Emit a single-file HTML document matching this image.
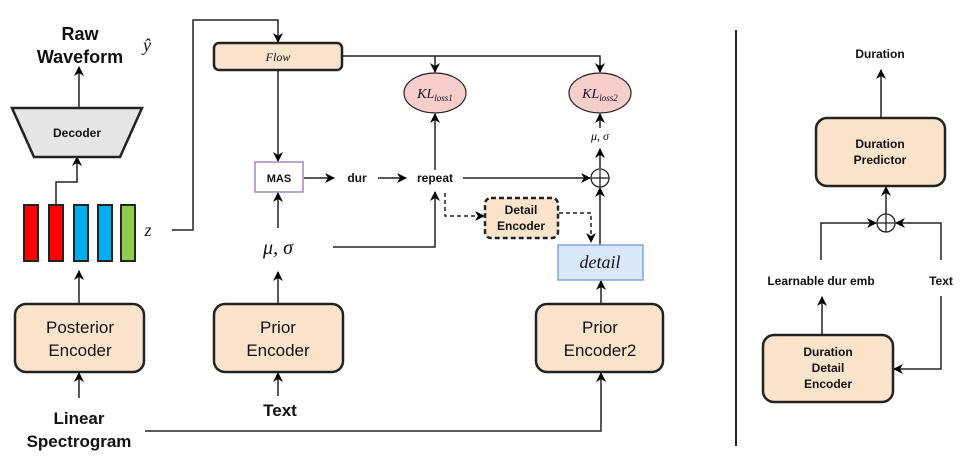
<!DOCTYPE html>
<html><head><meta charset="utf-8"><style>
html,body{margin:0;padding:0;background:#fff;}
svg{display:block;font-family:"Liberation Sans",sans-serif;}
.b{font-weight:bold;}
.m{font-family:"Liberation Serif",serif;font-style:italic;}
</style></head><body>
<svg width="974" height="472" viewBox="0 0 974 472" xmlns="http://www.w3.org/2000/svg">
<defs>
<marker id="a" markerWidth="10" markerHeight="10" refX="9" refY="5" orient="auto" markerUnits="userSpaceOnUse">
<path d="M0,0 L10,5 L0,10 L3,5 Z" fill="#000"/></marker>
</defs>
<g stroke="#222" stroke-width="1.5" fill="none">
<!-- z to flow -->
<polyline points="172,230 193,230 193,20 278,20 278,42" marker-end="url(#a)"/>
<!-- flow to MAS -->
<line x1="278" y1="70" x2="278" y2="161" marker-end="url(#a)"/>
<!-- flow to KL -->
<polyline points="342,56 600,56 600,72" marker-end="url(#a)"/>
<line x1="435" y1="56" x2="435" y2="72" marker-end="url(#a)"/>
<!-- MAS to dur -->
<line x1="304" y1="178" x2="334" y2="178" marker-end="url(#a)"/>
<line x1="378" y1="178" x2="406" y2="178" marker-end="url(#a)"/>
<!-- repeat to KL1 -->
<line x1="435" y1="170" x2="435" y2="114" marker-end="url(#a)"/>
<!-- repeat to oplus -->
<line x1="463" y1="178" x2="590" y2="178" marker-end="url(#a)"/>
<!-- mu sigma to repeat -->
<polyline points="333,247 435,247 435,192" marker-end="url(#a)"/>
<!-- mu sigma to MAS -->
<line x1="278" y1="228" x2="278" y2="193" marker-end="url(#a)"/>
<!-- prior to mu sigma -->
<line x1="278" y1="303" x2="278" y2="272" marker-end="url(#a)"/>
<line x1="278" y1="396" x2="278" y2="373" marker-end="url(#a)"/>
<!-- posterior -->
<line x1="79" y1="303" x2="79" y2="271" marker-end="url(#a)"/>
<line x1="79" y1="398" x2="79" y2="373" marker-end="url(#a)"/>
<polyline points="56,205 56,182 77,182 77,157" marker-end="url(#a)"/>
<line x1="79" y1="108" x2="79" y2="67" marker-end="url(#a)"/>
<!-- spectrogram to enc2 -->
<polyline points="145,431 601,431 601,373" marker-end="url(#a)"/>
<line x1="601" y1="304" x2="601" y2="281" marker-end="url(#a)"/>
<line x1="600" y1="245" x2="600" y2="188" marker-end="url(#a)"/>
<line x1="600" y1="168" x2="600" y2="149" marker-end="url(#a)"/>
<line x1="600" y1="128" x2="600" y2="114" marker-end="url(#a)"/>
<!-- dashed -->
<polyline points="445,193 445,216 484,216" stroke-dasharray="4,3" marker-end="url(#a)"/>
<polyline points="559,213 591,213 591,242" stroke-dasharray="4,3" marker-end="url(#a)"/>
<!-- divider -->
<line x1="736" y1="30" x2="736" y2="446" stroke-width="2"/>
<!-- right diagram -->
<line x1="881" y1="117" x2="881" y2="70" marker-end="url(#a)"/>
<line x1="886" y1="214" x2="886" y2="187" marker-end="url(#a)"/>
<polyline points="821,260 821,223 876,223" marker-end="url(#a)"/>
<polyline points="941,260 941,223 896,223" marker-end="url(#a)"/>
<line x1="822" y1="334" x2="822" y2="297" marker-end="url(#a)"/>
<polyline points="941,296 941,369 894,369" marker-end="url(#a)"/>
</g>
<!-- shapes -->
<g stroke="#222" stroke-width="2.5">
<polygon points="12,108 142,108 120,157 34,157" fill="#e6e6e6"/>
<rect x="214" y="43" width="128" height="27" rx="5" fill="#fce4cc"/>
<rect x="15" y="304" width="129" height="68" rx="11" fill="#fce4cc"/>
<rect x="214" y="304" width="129" height="68" rx="11" fill="#fce4cc"/>
<rect x="536" y="304" width="127" height="68" rx="11" fill="#fce4cc"/>
<rect x="816" y="118" width="129" height="68" rx="11" fill="#fce4cc"/>
<rect x="763" y="335" width="130" height="67" rx="11" fill="#fce4cc"/>
<rect x="485" y="198" width="73" height="40" rx="6" fill="#fce4cc" stroke-dasharray="5,3"/>
</g>
<g stroke="#222" stroke-width="2">
<rect x="24" y="205" width="14" height="56" fill="#ff0000"/>
<rect x="49" y="205" width="14" height="56" fill="#ff0000"/>
<rect x="74" y="205" width="14" height="56" fill="#00aeef"/>
<rect x="98" y="205" width="14" height="56" fill="#00aeef"/>
<rect x="121" y="205" width="14" height="56" fill="#8fce4c"/>
</g>
<rect x="255" y="162" width="48" height="30" fill="#fff" stroke="#a587c2" stroke-width="1.5"/>
<rect x="558" y="245" width="85" height="35" fill="#dae8fc" stroke="#7ea6e0" stroke-width="1.5"/>
<ellipse cx="435" cy="93" rx="31" ry="20" fill="#f8cecc" stroke="#222" stroke-width="1.2"/>
<ellipse cx="600" cy="93" rx="31" ry="20" fill="#f8cecc" stroke="#222" stroke-width="1.2"/>
<g fill="#fff" stroke="#222" stroke-width="1.3">
<circle cx="600" cy="178" r="9"/><circle cx="886" cy="223" r="9"/>
</g>
<g stroke="#222" stroke-width="1.3">
<line x1="591" y1="178" x2="609" y2="178"/><line x1="600" y1="169" x2="600" y2="187"/>
<line x1="877" y1="223" x2="895" y2="223"/><line x1="886" y1="214" x2="886" y2="232"/>
</g>
<!-- text -->
<g text-anchor="middle" fill="#111">
<text x="80" y="40" class="b" font-size="18">Raw</text>
<text x="80" y="63" class="b" font-size="18">Waveform</text>
<text x="147" y="51" class="m" font-size="18">ŷ</text>
<text x="77" y="137" class="b" font-size="12">Decoder</text>
<text x="148" y="236" class="m" font-size="18">z</text>
<text x="278" y="61" class="m" font-size="12">Flow</text>
<text x="279" y="182" class="b" font-size="11">MAS</text>
<text x="357" y="182" class="b" font-size="12">dur</text>
<text x="435" y="182" class="b" font-size="12">repeat</text>
<text x="435" y="98" class="m" font-size="14">KL<tspan font-size="9" dy="3">loss1</tspan></text>
<text x="600" y="98" class="m" font-size="14">KL<tspan font-size="9" dy="3">loss2</tspan></text>
<text x="600" y="140" class="m" font-size="12">μ, σ</text>
<text x="278" y="254" class="m" font-size="20">μ, σ</text>
<text x="521" y="214" class="b" font-size="12">Detail</text>
<text x="521" y="230" class="b" font-size="12">Encoder</text>
<text x="600" y="268" class="m" font-size="18">detail</text>
<text x="80" y="333" font-size="17">Posterior</text>
<text x="80" y="356" font-size="17">Encoder</text>
<text x="278" y="333" font-size="17">Prior</text>
<text x="278" y="356" font-size="17">Encoder</text>
<text x="600" y="333" font-size="17">Prior</text>
<text x="600" y="356" font-size="17">Encoder2</text>
<text x="280" y="416" class="b" font-size="17">Text</text>
<text x="79" y="424" class="b" font-size="17">Linear</text>
<text x="79" y="447" class="b" font-size="17">Spectrogram</text>
<text x="880" y="58" class="b" font-size="12">Duration</text>
<text x="880" y="148" class="b" font-size="12">Duration</text>
<text x="880" y="164" class="b" font-size="12">Predictor</text>
<text x="821" y="285" class="b" font-size="12">Learnable dur emb</text>
<text x="941" y="285" class="b" font-size="12">Text</text>
<text x="828" y="356" class="b" font-size="12">Duration</text>
<text x="828" y="372" class="b" font-size="12">Detail</text>
<text x="828" y="388" class="b" font-size="12">Encoder</text>
</g>
</svg>
</body></html>
